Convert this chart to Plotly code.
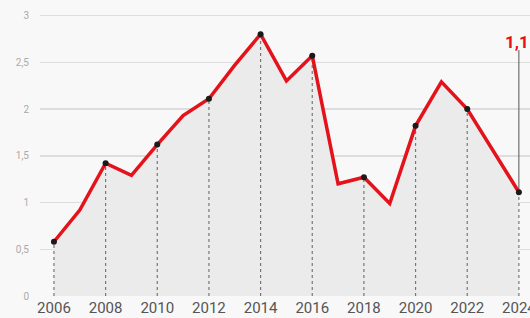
import plotly.graph_objects as go

years = list(range(2006, 2025))
values = [0.58, 0.92, 1.42, 1.29, 1.62, 1.93, 2.11, 2.47, 2.80, 2.30, 2.57,
          1.20, 1.27, 0.99, 1.82, 2.29, 2.00, 1.56, 1.11]
tick_years = list(range(2006, 2025, 2))
y_ticks = [0, 0.5, 1, 1.5, 2, 2.5, 3]
y_tick_labels = ["0", "0,5", "1", "1,5", "2", "2,5", "3"]
last_label = "1,1"

marker_years = [y for y in years if y % 2 == 0]
marker_vals = [v for y, v in zip(years, values) if y % 2 == 0]

fig = go.Figure()

# filled area
fig.add_trace(go.Scatter(x=years, y=values, mode="lines", line=dict(width=0),
                         fill="tozeroy", fillcolor="#ebebeb", hoverinfo="skip"))

# dotted drop lines
dx, dy = [], []
for x, v in zip(marker_years, marker_vals):
    dx += [x, x, None]
    dy += [0, v, None]
fig.add_trace(go.Scatter(x=dx, y=dy, mode="lines",
                         line=dict(color="#777777", width=1.2, dash="dot"),
                         hoverinfo="skip"))

# leader line for last value
fig.add_trace(go.Scatter(x=[years[-1], years[-1]], y=[values[-1], 2.63], mode="lines",
                         line=dict(color="#555555", width=1), hoverinfo="skip"))

# main red line
fig.add_trace(go.Scatter(x=years, y=values, mode="lines",
                         line=dict(color="#e3121b", width=3.5), hoverinfo="skip"))

# markers
fig.add_trace(go.Scatter(x=marker_years, y=marker_vals, mode="markers",
                         marker=dict(color="#1a1a1a", size=6), hoverinfo="skip"))

fig.add_annotation(x=1, xref="paper", y=2.72, yref="y", text="<b>" + last_label + "</b>",
                   showarrow=False, xanchor="right", yanchor="middle", xshift=1,
                   font=dict(family="Roboto", size=17, color="#e3121b"))

fig.update_layout(
    width=530, height=318,
    margin=dict(l=40, r=0, t=0, b=22.3, autoexpand=False),
    paper_bgcolor="#f8f8f8", plot_bgcolor="#f8f8f8",
    showlegend=False,
    xaxis=dict(range=[2005.46, 2024.43], tickvals=tick_years,
               ticktext=[str(t) for t in tick_years], showgrid=False, zeroline=False,
               showline=False, ticks="", ticklabelstandoff=1, automargin=False,
               ticklabeloverflow="allow",
               tickfont=dict(family="Roboto", size=15, color="#555555")),
    yaxis=dict(range=[0, 3.166], tickvals=y_ticks, ticktext=y_tick_labels,
               showgrid=True, gridcolor="#dddddd", gridwidth=1.5, zeroline=False,
               showline=False, ticks="", ticklabelstandoff=10, automargin=False,
               tickfont=dict(family="Roboto", size=10, color="#aaaaaa")),
)

fig.write_html("out.html", config={"displayModeBar": False, "staticPlot": True},
               post_script="document.body.style.margin='0';document.body.style.overflow='hidden';")
